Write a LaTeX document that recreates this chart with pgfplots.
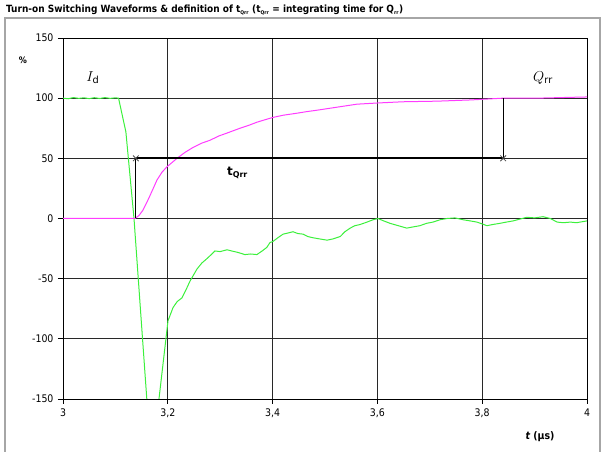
\documentclass[border=0pt]{standalone}
\usepackage{pgfplots}
\pgfplotsset{compat=1.18}
\usepackage{fontspec}
\setmainfont{DejaVu Sans}
\setsansfont{DejaVu Sans}
\newfontfamily\condfont{DejaVu Sans Condensed}
\definecolor{idgreen}{RGB}{60,240,60}
\definecolor{qmag}{RGB}{255,60,255}
\definecolor{gridc}{RGB}{40,40,40}
\begin{document}
\begin{tikzpicture}[x=1bp,y=1bp]
\useasboundingbox (-63,-53) rectangle (544,399);
\draw[gray!70, line width=1.2bp] (-58,-60) -- (-58,381) -- (537,381) -- (537,-60);
\node[anchor=west, font=\condfont\bfseries\fontsize{10}{11}\selectfont, inner sep=0pt] at (-57,389)
  {Turn-on Switching Waveforms \& definition of t\textsubscript{\fontsize{5}{6}\selectfont Qrr} (t\textsubscript{\fontsize{5}{6}\selectfont Qrr} = integrating time for Q\textsubscript{\fontsize{5}{6}\selectfont rr})};
\begin{axis}[
  at={(0,0)}, anchor=south west,
  scale only axis, width=524bp, height=361bp,
  xmin=3, xmax=4, ymin=-150, ymax=150,
  xtick={3,3.2,3.4,3.6,3.8,4},
  xticklabels={3,{3,2},{3,4},{3,6},{3,8},4},
  ytick={-150,-100,-50,0,50,100,150},
  yticklabels={-150,-100,-50,0,50,100,150},
  tick pos=left, tick align=outside, major tick length=5bp,
  tick style={black, line width=0.8bp},
  grid=major, major grid style={gridc, line width=0.8bp},
  axis line style={black, line width=0.8bp},
  ticklabel style={font=\condfont\fontsize{10.5}{12}\selectfont},
  yticklabel style={xshift=-1bp},
  xticklabel style={yshift=-1bp},
  clip=true,
]
\addplot[idgreen, line width=1bp] coordinates {
(3.0,100) (3.01,99.5) (3.02,100.5) (3.03,99.8) (3.04,100.3) (3.05,99.6) (3.06,100.4) (3.07,99.7) (3.08,100.5) (3.09,99.8) (3.1,100.3) (3.106,100)
(3.120,72) (3.1355,0) (3.164,-175) (3.1765,-175)
(3.2004,-85) (3.21,-74) (3.218,-69) (3.227,-66) (3.235,-59) (3.2424,-52) (3.2557,-42) (3.265,-37) (3.273,-34) (3.2805,-31) (3.290,-27) (3.30,-27.5) (3.313,-26) (3.322,-27) (3.332,-28) (3.34,-29) (3.347,-30) (3.358,-29.5) (3.370,-30) (3.38,-27) (3.389,-24) (3.395,-20) (3.401,-19) (3.41,-16) (3.42,-13) (3.43,-12) (3.439,-11) (3.448,-12.5) (3.458,-13) (3.467,-15) (3.477,-16) (3.49,-17) (3.504,-18) (3.515,-17) (3.529,-15) (3.538,-11) (3.548,-8) (3.557,-6) (3.567,-5) (3.58,-3) (3.592,-1) (3.601,0) (3.612,-2) (3.624,-4) (3.64,-6) (3.656,-8) (3.668,-7) (3.681,-6) (3.694,-4) (3.706,-3) (3.72,-1) (3.733,0) (3.748,0.5) (3.763,-1) (3.777,-2) (3.790,-3) (3.80,-4.5) (3.809,-6) (3.82,-5) (3.834,-4) (3.846,-3) (3.859,-2) (3.872,-0.5) (3.885,1) (3.9,0.5) (3.916,1.5) (3.93,0) (3.943,-3) (3.955,-3.5) (3.968,-3) (3.98,-3.5) (4.0,-2)
};
\addplot[qmag, line width=1bp] coordinates {
(3.0,0) (3.1374,0) (3.145,2.5) (3.1527,7) (3.159,12.5) (3.166,19) (3.1794,32) (3.189,38.5) (3.1985,43) (3.2176,50) (3.233,55) (3.248,59) (3.264,62.5) (3.2805,65) (3.297,68.5) (3.313,71) (3.3378,75) (3.355,77.5) (3.370,80) (3.385,82) (3.4008,84) (3.42,85.8) (3.4466,87.5) (3.465,88.8) (3.485,90) (3.5229,92.5) (3.561,95) (3.601,96) (3.649,97) (3.714,97.5) (3.777,98.5) (3.840,100) (3.905,100) (4.0,101)
};
% t_Qrr annotation
\addplot[black, line width=2.2bp] coordinates {(3.139,50) (3.84,50)};
\addplot[black, line width=0.8bp] coordinates {(3.139,0) (3.139,50)};
\addplot[black, line width=0.8bp] coordinates {(3.84,50) (3.84,100)};
\addplot[only marks, mark=x, mark size=4bp, gray!60!black, mark options={line width=0.8bp}] coordinates {(3.139,50) (3.84,50)};
\node[font=\sffamily\bfseries\fontsize{12}{14}\selectfont] at (axis cs:3.333,38) {t\textsubscript{\fontsize{8}{9}\selectfont Qrr}};
\node[font=\fontsize{14}{16}\selectfont] at (axis cs:3.057,117) {$I_{\mathrm{d}}$};
\node[font=\fontsize{14}{16}\selectfont] at (axis cs:3.916,117) {$Q_{\mathrm{rr}}$};
\end{axis}
\node[font=\condfont\bfseries\fontsize{9}{10}\selectfont] at (-40,339) {\%};
\node[font=\condfont\fontsize{10.5}{12}\selectfont] at (477,-38) {\textbf{\textit{t}} \textbf{(µs)}};
\end{tikzpicture}
\end{document}
